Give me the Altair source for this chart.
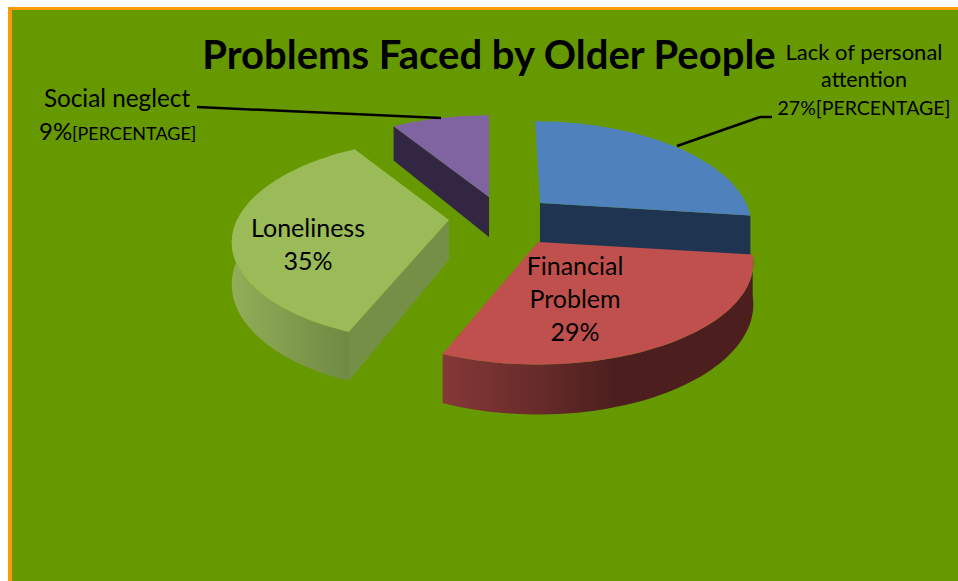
import math
import altair as alt

W, H = 958, 581

categories = ["Lack of personal attention", "Financial Problem", "Loneliness", "Social neglect"]
shares = [27, 29, 35, 9]

top_colors = ["#4f81bd", "#c0504d", "#9bbb59", "#8064a2"]
wall_colors = ["#1f3450", None, "#768f47", "#332642"]

# Pie geometry: vertical radius on screen, perspective strength and slab thickness.
RY, PERSP, DEPTH = 98, 0.2, 40
# Per-slice horizontal radius, backward lean and the spot its exploded tip lands on.
radii = [206, 211, 212, 208]
leans = [0.06, 0.0, -0.04, 0.0]
tips = [(540, 203), (538, 242), (449, 220), (489, 197)]

FONT = "Lato"


def project(i, theta, drop=0.0):
    u, v = math.cos(theta), math.sin(theta)
    w = 1 + PERSP * v
    dy = -RY * v / w
    return [tips[i][0] + radii[i] * u / w + leans[i] * dy,
            tips[i][1] + dy + drop / w]


def sweep(start, end, n=60):
    return [start + (end - start) * k / n for k in range(n + 1)]


def feature(ring):
    ring = ring + [ring[0]]
    return {"type": "Feature", "properties": {},
            "geometry": {"type": "Polygon", "coordinates": [ring]}}


def shape(ring, fill):
    return (
        alt.Chart(alt.Data(values=[feature(ring)]))
        .mark_geoshape(fill=fill, stroke=None, strokeWidth=0)
        .project(type="identity", scale=1, translate=[0, 0])
    )


def side_gradient(stops):
    return alt.Gradient(
        gradient="linear", x1=0, x2=1, y1=0, y2=0,
        stops=[alt.GradientStop(offset=o, color=c) for o, c in stops],
    )


# Slice angles run clockwise from twelve o'clock.
edges = [math.pi / 2]
for s in shares:
    edges.append(edges[-1] - 2 * math.pi * s / 100)


def top_face(i):
    return [[tips[i][0], tips[i][1]]] + [project(i, t) for t in sweep(edges[i], edges[i + 1])]


def cut_wall(i, theta):
    return [[tips[i][0], tips[i][1]], project(i, theta),
            project(i, theta, DEPTH), [tips[i][0], tips[i][1] + DEPTH]]


def rim(i, start, end):
    angles = sweep(start, end)
    return ([project(i, t) for t in angles] +
            [project(i, t, DEPTH) for t in reversed(angles)])


layers = []

# Green panel with its orange edge.
layers.append(
    alt.Chart().mark_rect(fill="#ff9900").encode(
        x=alt.value(8), x2=alt.value(W), y=alt.value(7), y2=alt.value(H))
)
layers.append(
    alt.Chart().mark_rect(fill="#669900").encode(
        x=alt.value(12), x2=alt.value(W), y=alt.value(10), y2=alt.value(H))
)

# Back to front: purple, blue, green, red.
layers.append(shape(cut_wall(3, edges[3]), wall_colors[3]))
layers.append(shape(top_face(3), top_colors[3]))

layers.append(shape(cut_wall(0, edges[1]), wall_colors[0]))
layers.append(shape(top_face(0), top_colors[0]))

layers.append(shape(rim(2, edges[2], -math.pi),
                    side_gradient([(0, "#93ae58"), (0.55, "#7f9a4c"), (1, "#6f8a43")])))
layers.append(shape(cut_wall(2, edges[2]), wall_colors[2]))
layers.append(shape(top_face(2), top_colors[2]))

layers.append(shape(rim(1, edges[1], edges[2]),
                    side_gradient([(0, "#863838"), (0.3, "#682b2a"), (0.55, "#4c1f1e"), (1, "#4c1f1e")])))
layers.append(shape(top_face(1), top_colors[1]))

# Leader lines.
leaders = [(197, 107, 441, 118), (677, 146, 760, 117), (760, 117, 772, 117)]
for x0, y0, x1, y1 in leaders:
    layers.append(
        alt.Chart().mark_rule(color="black", strokeWidth=2.5).encode(
            x=alt.value(x0), y=alt.value(y0), x2=alt.value(x1), y2=alt.value(y1))
    )

# Text: string, anchor x, centre y, size, weight, alignment.
texts = [
    ("Problems Faced by Older People", 489, 57, 40, "bold", "center"),
    ("Lack of personal", 864, 53, 22, "normal", "center"),
    ("attention", 864, 81, 21.5, "normal", "center"),
    (f"{shares[0]}%[PERCENTAGE]", 864, 109, 19.5, "normal", "center"),
    ("Financial", 575, 267, 25, "normal", "center"),
    ("Problem", 575, 300, 25, "normal", "center"),
    (f"{shares[1]}%", 575, 333, 25, "normal", "center"),
    ("Loneliness", 308, 229, 25, "normal", "center"),
    (f"{shares[2]}%", 308, 262, 25, "normal", "center"),
    ("Social neglect", 117, 100, 24.3, "normal", "center"),
    (f"{shares[3]}%", 39, 133, 24, "normal", "left"),
    ("[PERCENTAGE]", 72, 135, 18, "normal", "left"),
]
for s, x, y, size, weight, align in texts:
    layers.append(
        alt.Chart().mark_text(
            text=s, font=FONT, fontSize=size, fontWeight=weight, align=align,
            baseline="middle", color="black",
        ).encode(x=alt.value(x), y=alt.value(y))
    )

chart = alt.layer(*layers).properties(
    width=W, height=H, padding=0, background="white",
    autosize=alt.AutoSizeParams(type="none"),
).configure_view(stroke=None)

chart.save("out.html", embed_options={"renderer": "svg", "actions": False})
